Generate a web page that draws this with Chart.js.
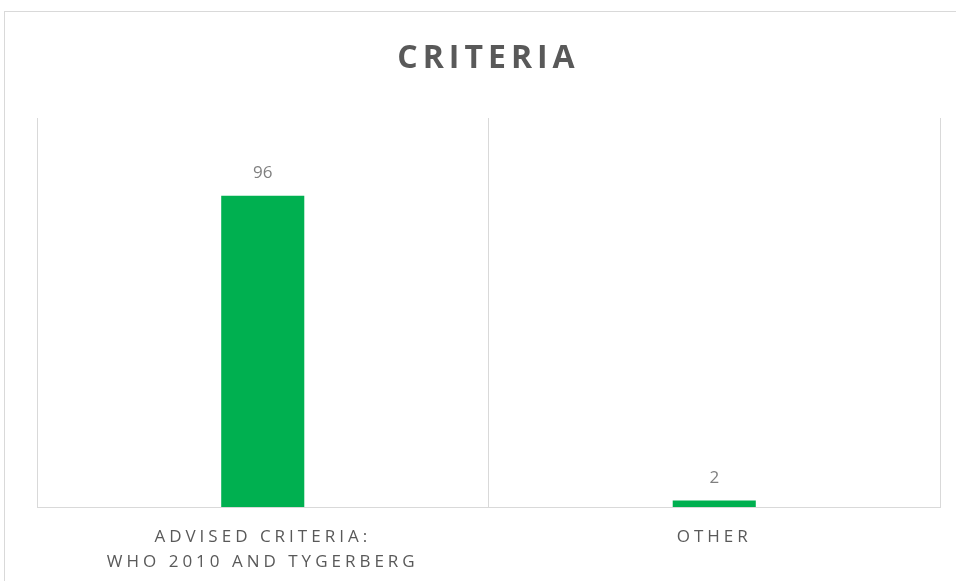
<!DOCTYPE html>
<html>
<head>
<meta charset="utf-8">
<script src="https://cdn.jsdelivr.net/npm/chart.js@4"></script>
<style>
    html, body { margin: 0; padding: 0; background: #ffffff; }
    #wrap { position: relative; width: 956px; height: 581px; }
</style>
</head>
<body>
<div id="wrap"><canvas id="criteriaChart" width="956" height="581"></canvas></div>
<script>
const titleText = 'CRITERIA';
const categories = [['ADVISED CRITERIA:', 'WHO 2010 AND TYGERBERG'], 'OTHER'];
const counts = [96, 2];
const yMax = 120;

const green = '#00b050';
const lineGray = '#d9d9d9';

// Frame, title and value labels are drawn by hand
const decorPlugin = {
    id: 'decor',
    beforeDraw(chart) {
        const ctx = chart.ctx;
        ctx.save();
        ctx.strokeStyle = lineGray;
        ctx.lineWidth = 1;
        ctx.strokeRect(4.5, 11.5, 1200, 1200);
        ctx.restore();
        // spaced caps for the category labels
        ctx.letterSpacing = '4px';
    },
    beforeDatasetsDraw(chart) {
        chart.ctx.letterSpacing = '0px';
    },
    afterDatasetsDraw(chart) {
        const ctx = chart.ctx;
        const meta = chart.getDatasetMeta(0);
        ctx.save();
        ctx.letterSpacing = '0px';
        ctx.font = '17px "Open Sans"';
        ctx.fillStyle = '#7f7f7f';
        ctx.textAlign = 'center';
        ctx.textBaseline = 'alphabetic';
        meta.data.forEach((bar, i) => {
            ctx.fillText(String(counts[i]), bar.x, bar.y - 18);
        });

        ctx.letterSpacing = '5px';
        ctx.font = 'bold 32px "Open Sans"';
        ctx.fillStyle = '#595959';
        ctx.fillText(titleText, 486 + 2.5, 68);
        ctx.restore();
    }
};

new Chart(document.getElementById('criteriaChart'), {
    type: 'bar',
    data: {
        labels: categories,
        datasets: [{
            data: counts,
            backgroundColor: green,
            borderWidth: 0,
            barPercentage: 0.184,
            categoryPercentage: 1
        }]
    },
    options: {
        responsive: false,
        animation: false,
        layout: { padding: { top: 118, left: 37, right: 16, bottom: 0 } },
        plugins: {
            legend: { display: false },
            title: { display: false },
            tooltip: { enabled: false }
        },
        scales: {
            x: {
                grid: { color: lineGray, lineWidth: 1, tickLength: 0, offset: true },
                border: { color: lineGray, width: 1 },
                ticks: {
                    color: '#595959',
                    font: { family: 'Open Sans', size: 17, lineHeight: 1.47 },
                    padding: 18,
                    maxRotation: 0,
                    autoSkip: false
                },
                afterFit(scale) { scale.height = 74; }
            },
            y: {
                display: false,
                min: 0,
                max: yMax
            }
        }
    },
    plugins: [decorPlugin]
});
</script>
</body>
</html>
